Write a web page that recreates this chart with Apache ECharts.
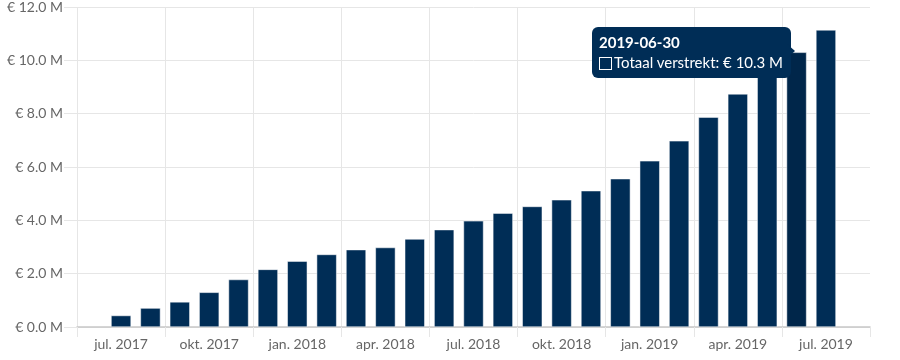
<!DOCTYPE html>
<html>
<head>
<meta charset="utf-8">
<script src="https://cdn.jsdelivr.net/npm/echarts@6/dist/echarts.min.js"></script>
<style>
  html, body { margin: 0; padding: 0; background: #fff; }
  #chart { width: 900px; height: 360px; }
</style>
</head>
<body>
<div id="chart"></div>
<script>
// Month-end dates (categories)
var categories = [
  '2017-06-30','2017-07-31','2017-08-31','2017-09-30','2017-10-31','2017-11-30','2017-12-31',
  '2018-01-31','2018-02-28','2018-03-31','2018-04-30','2018-05-31','2018-06-30',
  '2018-07-31','2018-08-31','2018-09-30','2018-10-31','2018-11-30','2018-12-31',
  '2019-01-31','2019-02-28','2019-03-31','2019-04-30','2019-05-31','2019-06-30',
  '2019-07-31','2019-08-31'
];
// Axis label per category (only every third is shown)
var tickLabels = [
  'jun. 2017','jul. 2017','aug. 2017','sep. 2017','okt. 2017','nov. 2017','dec. 2017',
  'jan. 2018','feb. 2018','mrt. 2018','apr. 2018','mei 2018','jun. 2018',
  'jul. 2018','aug. 2018','sep. 2018','okt. 2018','nov. 2018','dec. 2018',
  'jan. 2019','feb. 2019','mrt. 2019','apr. 2019','mei 2019','jun. 2019',
  'jul. 2019','aug. 2019'
];
// Totaal verstrekt (in euro)
var totaalVerstrekt = [
  null, 430000, 710000, 940000, 1300000, 1780000, 2160000,
  2470000, 2720000, 2900000, 2980000, 3300000, 3650000,
  3980000, 4270000, 4520000, 4770000, 5110000, 5560000,
  6230000, 6980000, 7870000, 8740000, 9600000, 10300000,
  11140000, null
];
var seriesName = 'Totaal verstrekt';
var highlightIndex = 24;

function fmtM(v) { return '€ ' + (v / 1e6).toFixed(1) + ' M'; }
function gridAt(i) { return i % 3 === 0 && i < categories.length - 1; }

var gridColor = '#e6e6e6';
// one colour per vertical grid line; the closing line at the right edge is hidden
var vLineColors = [];
for (var k = 0; k < categories.length - 1; k++) { if (k % 3 === 0) vLineColors.push(gridColor); }
vLineColors.push('rgba(0,0,0,0)');

var chart = echarts.init(document.getElementById('chart'), null, { renderer: 'canvas' });
chart.setOption({
  animation: false,
  textStyle: { fontFamily: 'Lato' },
  grid: { left: 77, right: 30, top: 7, bottom: 33 },
  tooltip: {
    trigger: 'item',
    alwaysShowContent: true,
    triggerOn: 'none',
    backgroundColor: '#002d56',
    borderWidth: 0,
    borderRadius: 6,
    padding: [5, 8, 6, 7],
    extraCssText: 'box-shadow:none;overflow:visible;',
    textStyle: { color: '#fff', fontFamily: 'Lato', fontSize: 15 },
    position: function () { return [592, 27]; },
    formatter: function (p) {
      return '<div style="position:relative;line-height:20px;font-family:Lato;">' +
        '<div style="font-weight:bold;">' + categories[p.dataIndex] + '</div>' +
        '<div><span style="display:inline-block;width:11px;height:11px;border:1.5px solid #fff;vertical-align:-2px;margin-right:2px;"></span>' +
        p.seriesName + ': ' + fmtM(p.value) + '</div>' +
        '<div style="position:absolute;right:-12px;top:12px;width:0;height:0;border-top:7px solid transparent;border-bottom:7px solid transparent;border-left:8px solid #002d56;"></div>' +
        '</div>';
    }
  },
  xAxis: {
    type: 'category',
    data: categories,
    boundaryGap: true,
    axisLine: { show: true, lineStyle: { color: '#c8c8c8', width: 1.5 } },
    axisTick: {
      show: true, length: 10,
      interval: gridAt,
      lineStyle: { color: gridColor }
    },
    splitLine: {
      show: true,
      interval: gridAt,
      lineStyle: { color: vLineColors }
    },
    axisLabel: {
      interval: function (i) { return i % 3 === 1; },
      formatter: function (v, i) { return tickLabels[i]; },
      color: '#666',
      fontSize: 14,
      fontFamily: 'Lato',
      margin: 10
    }
  },
  yAxis: {
    type: 'value',
    min: 0, max: 12000000, interval: 2000000,
    axisLine: { show: false },
    axisTick: { show: true, length: 13, lineStyle: { color: gridColor } },
    splitLine: { show: true, lineStyle: { color: gridColor } },
    axisLabel: {
      formatter: fmtM,
      color: '#666',
      fontSize: 14,
      fontFamily: 'Lato',
      margin: 14
    }
  },
  series: [{
    type: 'bar',
    name: seriesName,
    data: totaalVerstrekt,
    barWidth: 20,
    itemStyle: { color: '#002d56', borderColor: '#ffffff', borderWidth: 0.5 },
    emphasis: { itemStyle: { color: '#00264a' } }
  }]
});
chart.dispatchAction({ type: 'highlight', seriesIndex: 0, dataIndex: highlightIndex });
chart.dispatchAction({ type: 'showTip', seriesIndex: 0, dataIndex: highlightIndex });
</script>
</body>
</html>
